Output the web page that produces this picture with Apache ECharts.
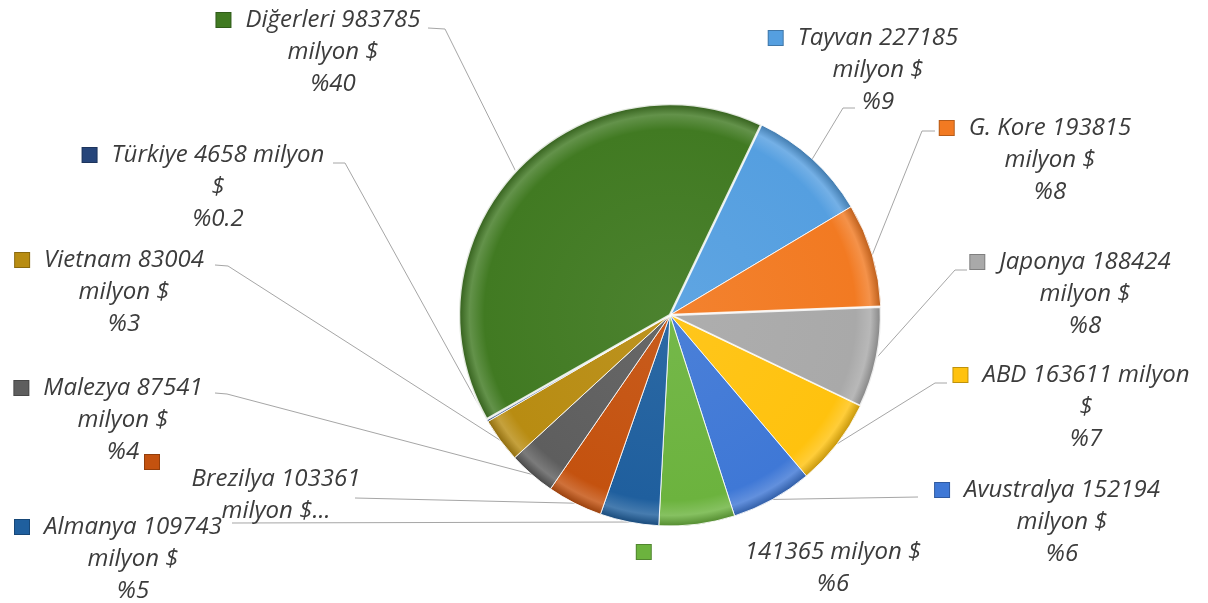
<!DOCTYPE html>
<html>
<head>
<meta charset="utf-8">
<script src="https://cdn.jsdelivr.net/npm/echarts@6/dist/echarts.min.js"></script>
<style>
  html, body { margin: 0; padding: 0; background: #fff; }
  #chart { width: 1208px; height: 603px; }
</style>
</head>
<body>
<div id="chart"></div>
<script>
// data, clockwise from Tayvan
const countries = ['Tayvan', 'G. Kore', 'Japonya', 'ABD', 'Avustralya', '', 'Almanya', 'Brezilya', 'Malezya', 'Vietnam', 'Türkiye', 'Diğerleri'];
const exportValues = [227185, 193815, 188424, 163611, 152194, 141365, 109743, 103361, 87541, 83004, 4658, 983785];
const shareLabels = ['%9', '%8', '%8', '%7', '%6', '%6', '%5', '', '%4', '%3', '%0.2', '%40'];
// how Excel wrapped each label
const wrapKinds = ['std', 'std', 'std', 'long', 'std', 'blank', 'std', 'cut', 'std', 'std', 'long', 'std'];

const sliceColors = ['#559fe0', '#f27a22', '#a9a9a9', '#ffc20e', '#3f78d6', '#6cb33e',
                     '#1f5f9e', '#c4520f', '#5e5e5e', '#b88c12', '#26457a', '#417a22'];

// label placement (top-centre of the text block) and leader line ends
const labelSpots = [[878, 22], [1050, 112], [1085, 246], [1086, 359], [1062, 474], [833, 536],
                    [133, 511], [276, 461], [123, 372], [124, 244], [218, 139], [333, 4]];
const lineEnds = [
  [[843, 108], [855, 108]],
  [[922, 131], [935, 131]],
  [[955, 270], [967, 270]],
  [[935, 383], [947, 383]],
  [[918, 497], [918, 497]],
  null,
  [[232, 523], [232, 523]],
  [[355, 498], [355, 498]],
  [[227, 394], [215, 393]],
  [[228, 266], [215, 265]],
  [[345, 163], [333, 163]],
  [[445, 29], [428, 28]]
];

function shade(hex, f) {
  const n = parseInt(hex.slice(1), 16);
  let r = (n >> 16) & 255, g = (n >> 8) & 255, b = n & 255;
  const t = f < 0 ? 0 : 255, p = Math.abs(f);
  r = Math.round((t - r) * p + r); g = Math.round((t - g) * p + g); b = Math.round((t - b) * p + b);
  return 'rgb(' + r + ',' + g + ',' + b + ')';
}

function labelText(i) {
  const name = countries[i], val = exportValues[i], pct = shareLabels[i];
  switch (wrapKinds[i]) {
    case 'long': return '{k|}{g|}' + name + ' ' + val + ' milyon{g2|}\n$\n' + pct;
    case 'blank': return '{k|}{gb|}' + val + ' milyon ${gb2|}\n' + pct;
    case 'cut': return '{kb|}{sp|}\n' + name + ' ' + val + '\nmilyon $...';
    default: return '{k|}{g|}' + name + ' ' + val + '{g2|}\nmilyon $\n' + pct;
  }
}

const CX = 670, CY = 315, R = 211;

const pieData = countries.map((name, i) => {
  const c = sliceColors[i];
  const key = {
    width: 14, height: 14, backgroundColor: c,
    borderColor: shade(c, -0.25), borderWidth: 1
  };
  return {
    name: name || ' ',
    value: exportValues[i],
    itemStyle: {
      color: {
        type: 'radial', x: CX, y: CY, r: R, global: true,
        colorStops: [
          { offset: 0, color: shade(c, 0.06) },
          { offset: 0.88, color: c },
          { offset: 0.95, color: shade(c, 0.18) },
          { offset: 1, color: shade(c, -0.22) }
        ]
      },
      borderColor: 'rgba(255,255,255,0.85)',
      borderWidth: (i === 11 || i === 2) ? 2.5 : 1
    },
    label: {
      formatter: labelText(i),
      rich: {
        k: key,
        kb: Object.assign({}, key, { lineHeight: 2 }),
        g: { width: 15 },
        g2: { width: 29 },
        gb: { width: 94 },
        gb2: { width: 108 },
        sp: { width: 248, lineHeight: 2 }
      }
    },
    labelLine: { show: lineEnds[i] !== null }
  };
});

const chart = echarts.init(document.getElementById('chart'));
chart.setOption({
  animation: false,
  backgroundColor: '#ffffff',
  series: [{
    type: 'pie',
    center: [CX, CY],
    radius: R,
    startAngle: 64.4,
    clockwise: true,
    avoidLabelOverlap: false,
    silent: true,
    data: pieData,
    label: {
      show: true,
      position: 'outside',
      alignTo: 'none',
      overflow: 'none',
      color: '#3c3c3c',
      fontFamily: 'Open Sans',
      fontStyle: 'italic',
      fontSize: 24,
      lineHeight: 32
    },
    labelLine: {
      show: true,
      lineStyle: { color: '#a6a6a6', width: 1 }
    },
    labelLayout: function (params) {
      const i = params.dataIndex;
      const spot = labelSpots[i];
      const out = { x: spot[0], y: spot[1], align: 'center', verticalAlign: 'top' };
      if (lineEnds[i] && params.labelLinePoints) {
        out.labelLinePoints = [params.labelLinePoints[0], lineEnds[i][0], lineEnds[i][1]];
      }
      return out;
    }
  }]
});
</script>
</body>
</html>
